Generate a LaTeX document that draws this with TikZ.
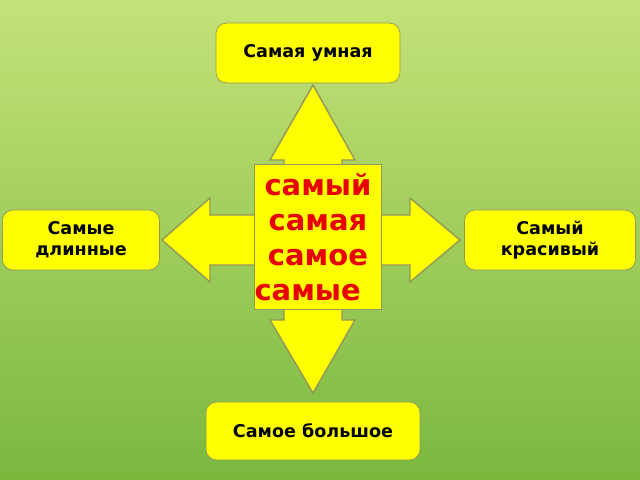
\documentclass[tikz,border=0pt]{standalone}
\usepackage{fontspec}
\setmainfont{DejaVu Sans}
\usetikzlibrary{positioning}
\definecolor{bgtop}{RGB}{196,226,120}
\definecolor{bgbot}{RGB}{122,184,62}
\definecolor{boxyellow}{RGB}{255,255,0}
\definecolor{edge}{RGB}{150,150,90}
\definecolor{wordred}{RGB}{230,0,0}
\begin{document}
\begin{tikzpicture}[x=0.02cm, y=-0.02cm,
    box/.style={rectangle, draw=edge, fill=boxyellow, rounded corners=6pt, align=center, font=\bfseries\fontsize{10}{12}\selectfont, inner sep=0pt},
    cross/.style={draw=edge, fill=boxyellow, line width=0.8pt}
]
    \shade[top color=bgtop, bottom color=bgbot] (0,0) rectangle (640,480);
    \useasboundingbox (0,0) rectangle (640,480);

    % four-way arrow
    \draw[cross] (313,85) -- (355,160) -- (342,160) -- (342,215) -- (410,215) -- (410,198)
        -- (460,240) -- (410,282) -- (410,265) -- (342,265) -- (342,320) -- (355,320)
        -- (313,393) -- (270,320) -- (284,320) -- (284,265) -- (210,265) -- (210,282)
        -- (162,240) -- (210,198) -- (210,215) -- (284,215) -- (284,160) -- (270,160) -- cycle;

    \node[box, minimum width=3.68cm, minimum height=1.2cm] (top) at (308,53) {Самая умная};
    \node[box, minimum width=3.14cm, minimum height=1.2cm] (left) at (81,240) {Самые\\длинные};
    \node[box, minimum width=3.42cm, minimum height=1.2cm] (right) at (550,240) {Самый\\красивый};
    \node[box, minimum width=4.28cm, minimum height=1.16cm] (bottom) at (313,431) {Самое большое};
    \node[box, rounded corners=0pt, text width=2.54cm, minimum height=2.9cm,
        text=wordred, font=\bfseries\fontsize{16.5}{20}\selectfont] (centre) at (318,237)
        {самый\hspace*{0.24cm}\\самая\hspace*{0.24cm}\\самое\hspace*{0.24cm}\\самые\hspace*{0.5cm}};
\end{tikzpicture}
\end{document}
